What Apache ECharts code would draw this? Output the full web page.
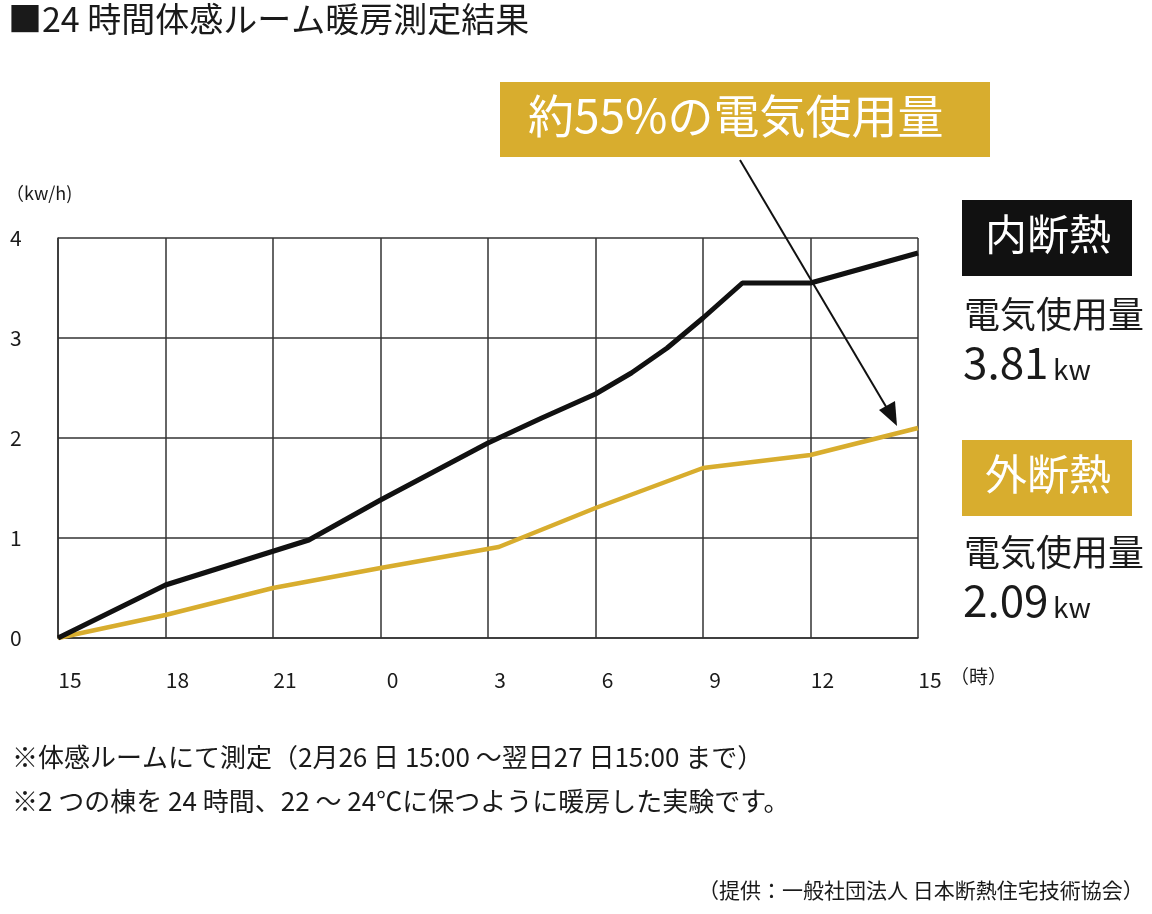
<!DOCTYPE html>
<html><head><meta charset="utf-8">
<script src="https://cdn.jsdelivr.net/npm/echarts@6/dist/echarts.min.js"></script>
<style>html,body{margin:0;background:#fff}#c{width:1152px;height:914px}</style>
</head><body><div id="c"></div>
<script>
const hourLabels = ['15', '18', '21', '0', '3', '6', '9', '12', '15'];
const innerHours = [0, 3, 7, 9, 12, 13.5, 15, 16, 17, 18, 19.1, 21, 24];
const innerKw = [0, 0.53, 0.98, 1.38, 1.95, 2.2, 2.44, 2.65, 2.9, 3.2, 3.55, 3.55, 3.85];
const outerHours = [0, 3, 6, 9, 12.3, 15, 18, 21, 24];
const outerKw = [0, 0.23, 0.5, 0.7, 0.91, 1.3, 1.7, 1.83, 2.1];

const FONT = '"Noto Sans CJK JP", "Noto Sans", sans-serif';
const GOLD = '#d8ad2e';
const txt = (x, y, text, size, fill) => ({
  type: 'text', left: x, top: y,
  style: { text, font: `${size}px ${FONT}`, fill: fill || '#1a1a1a' }
});

const chart = echarts.init(document.getElementById('c'));
chart.setOption({
  animation: false,
  textStyle: { fontFamily: FONT },
  grid: { left: 58, right: 234, top: 238, bottom: 276 },
  xAxis: {
    type: 'value', min: 0, max: 24, interval: 3,
    axisLine: { lineStyle: { color: '#333', width: 1.5 } },
    axisTick: { show: false },
    splitLine: { lineStyle: { color: '#333', width: 1.5 } },
    axisLabel: {
      margin: 32, fontSize: 21, color: '#1a1a1a', padding: [0, 0, 0, 24],
      formatter: v => hourLabels[v / 3]
    }
  },
  yAxis: {
    type: 'value', min: 0, max: 4, interval: 1,
    axisLine: { show: true, lineStyle: { color: '#333', width: 1.5 } },
    axisTick: { show: false },
    splitLine: { lineStyle: { color: '#333', width: 1.5 } },
    axisLabel: { margin: 48, align: 'left', fontSize: 21, color: '#1a1a1a', verticalAlign: 'middle', padding: [0, 0, 4, 0] }
  },
  series: [
    {
      name: '内断熱', type: 'line', symbol: 'none',
      data: innerHours.map((h, i) => [h, innerKw[i]]),
      lineStyle: { color: '#111', width: 5 }, z: 3
    },
    {
      name: '外断熱', type: 'line', symbol: 'none',
      data: outerHours.map((h, i) => [h, outerKw[i]]),
      lineStyle: { color: GOLD, width: 4.5 }, z: 2
    }
  ],
  graphic: [
    txt(8, 2, '■24 時間体感ルーム暖房測定結果', 34),
    txt(6, 184, '（kw/h)', 18),
    txt(950, 667, '（時）', 19),
    { type: 'rect', shape: { x: 500, y: 82, width: 490, height: 75 }, style: { fill: GOLD } },
    txt(528, 93, '約55%の電気使用量', 46, '#fff'),
    { type: 'line', shape: { x1: 740, y1: 160, x2: 888, y2: 410 }, style: { stroke: '#111', lineWidth: 2 }, z: 10 },
    { type: 'polygon', shape: { points: [[897, 426], [879, 410], [895, 401]] }, style: { fill: '#111' }, z: 10 },
    { type: 'rect', shape: { x: 962, y: 200, width: 170, height: 76 }, style: { fill: '#111' } },
    txt(985, 213, '内断熱', 42, '#fff'),
    txt(964, 296, '電気使用量', 36),
    txt(963, 340, '3.81', 44),
    txt(1053, 355, 'kw', 28),
    { type: 'rect', shape: { x: 962, y: 440, width: 170, height: 76 }, style: { fill: GOLD } },
    txt(985, 453, '外断熱', 42, '#fff'),
    txt(964, 534, '電気使用量', 36),
    txt(963, 578, '2.09', 44),
    txt(1053, 593, 'kw', 28),
    txt(12, 744, '※体感ルームにて測定（2月26 日 15:00 ～翌日27 日15:00 まで）', 26),
    txt(12, 788, '※2 つの棟を 24 時間、22 ～ 24℃に保つように暖房した実験です。', 26),
    txt(698, 880, '（提供：一般社団法人 日本断熱住宅技術協会）', 21)
  ]
});
</script></body></html>
